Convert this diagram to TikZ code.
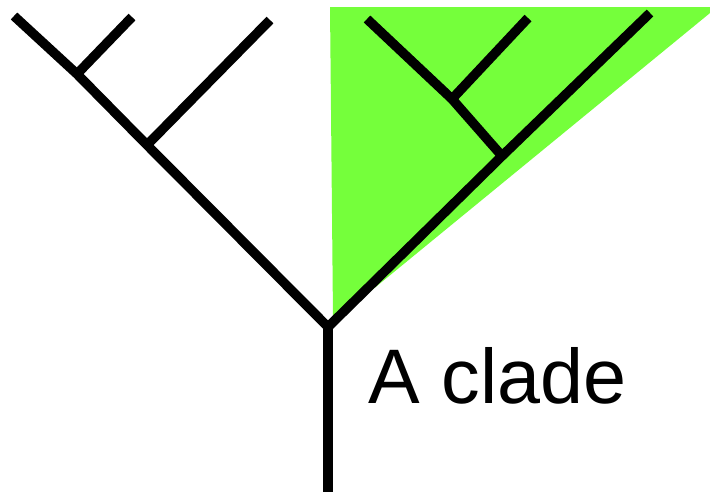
\documentclass[tikz,border=0pt]{standalone}
\usepackage{fontspec}
\setmainfont{Liberation Sans}
\usetikzlibrary{positioning}
\definecolor{cladegreen}{RGB}{117,255,59}

\begin{document}
\begin{tikzpicture}[x=0.1mm, y=-0.1mm, branch/.style={line width=0.95mm, line join=miter}]
\useasboundingbox (0,0) rectangle (710,495);
% shaded clade
\fill[cladegreen] (330,7) -- (710,7) -- (710,13) -- (372,290) -- (333,318) -- cycle;
% branch points and tips
\coordinate (root) at (328,327);
\coordinate (base) at (328,492);
\coordinate (l_b) at (147,145);
\coordinate (l_a) at (77,74);
\coordinate (l_0) at (14,16);
\coordinate (l_1) at (132,17);
\coordinate (l_2) at (270,20);
\coordinate (r_c) at (502,156);
\coordinate (r_d) at (452,99);
\coordinate (r_0) at (367,19);
\coordinate (r_1) at (528,18);
\coordinate (r_2) at (650,13);
% tree
\draw[branch] (l_0) -- (l_a) -- (l_b) -- (root) -- (r_c) -- (r_2);
\draw[branch] (root) -- (base);
\draw[branch] (l_a) -- (l_1);
\draw[branch] (l_b) -- (l_2);
\draw[branch] (r_c) -- (r_d) -- (r_0);
\draw[branch] (r_d) -- (r_1);
\node[anchor=base west, inner sep=0pt, font=\fontsize{22}{26}\selectfont] (label) at (368,403) {A clade};
\end{tikzpicture}
\end{document}
